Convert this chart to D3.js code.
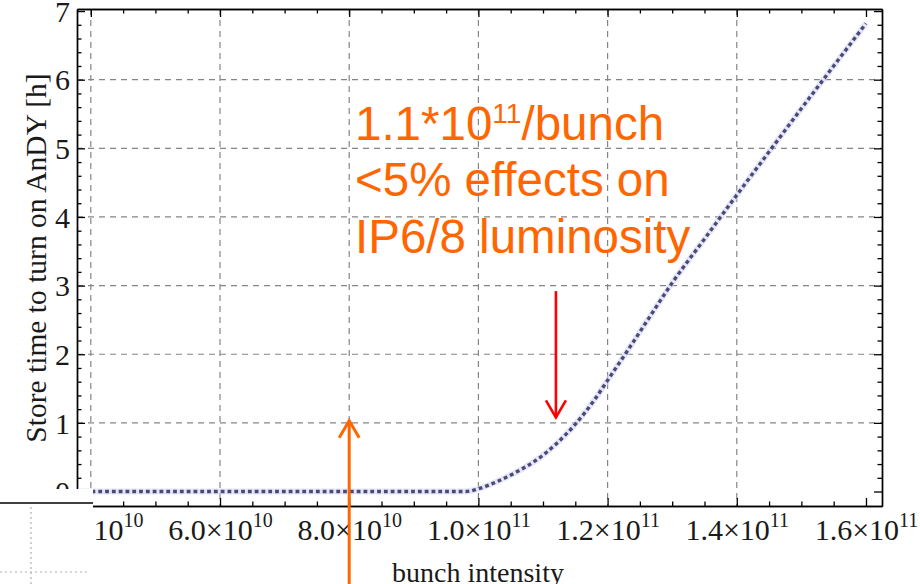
<!DOCTYPE html>
<html>
<head>
<meta charset="utf-8">
<script src="https://cdn.jsdelivr.net/npm/d3@7"></script>
<style>
  body { margin: 0; background: #fff; }
  svg { display: block; }
</style>
</head>
<body>
<svg id="chart" width="920" height="584"></svg>
<script>
// Store time needed before AnDY can be switched on, versus bunch intensity
const intensity = [3.8e10, 5e10, 6e10, 7e10, 8e10, 9e10, 9.8e10, 1.0e11, 1.03e11, 1.06e11, 1.09e11,
  1.12e11, 1.15e11, 1.18e11, 1.2e11, 1.23e11, 1.26e11, 1.3e11, 1.35e11, 1.4e11, 1.45e11,
  1.5e11, 1.55e11, 1.6e11];
const storeTime = [0, 0, 0, 0, 0, 0, 0, 0.04, 0.15, 0.29, 0.46,
  0.69, 0.98, 1.34, 1.62, 2.04, 2.47, 3.04, 3.68, 4.32, 4.95,
  5.58, 6.2, 6.82];

// Axis ticks
const xTickValues = [4e10, 6e10, 8e10, 1e11, 1.2e11, 1.4e11, 1.6e11];
const xTickMantissas = ["4.0", "6.0", "8.0", "1.0", "1.2", "1.4", "1.6"];
const xTickExponents = ["10", "10", "10", "11", "11", "11", "11"];
const xGridValues = [4e10, 6e10, 8e10, 1e11, 1.2e11, 1.4e11];
const yTickValues = [0, 1, 2, 3, 4, 5, 6, 7];
const yTickLabels = ["0", "1", "2", "3", "4", "5", "6", "7"];
const yGridValues = [1, 2, 3, 4, 5, 6];

// Annotation
const noteLine1 = ["1.1*10", "11", "/bunch"];
const noteLines = ["<5% effects on", "IP6/8 luminosity"];
const designArrow = { x: 1.12e11, from: 2.92, to: 1.08 };
const currentArrow = { x: 8.0e10, tip: 1.03 };

const svg = d3.select("#chart");
const W = 920, H = 584;
const plot = { left: 77, right: 882, top: 9, bottom: 506 };

const x = d3.scaleLinear().domain([3.786e10, 1.6248e11]).range([plot.left, plot.right]);
const y = d3.scaleLinear().domain([-0.211, 7.03]).range([plot.bottom, plot.top]);

const serif = "'Liberation Serif', 'Times New Roman', serif";
const sans = "'Liberation Sans', Arial, sans-serif";
const ink = "#1a1a1a";

// grid
const grid = svg.append("g").attr("stroke", "#858585").attr("stroke-width", 1.2)
  .attr("stroke-dasharray", "6,5").attr("fill", "none");
grid.selectAll("line.gx").data(xGridValues).join("line").attr("class", "gx")
  .attr("x1", d => x(d)).attr("x2", d => x(d)).attr("y1", plot.top).attr("y2", plot.bottom);
grid.selectAll("line.gy").data(yGridValues).join("line").attr("class", "gy")
  .attr("y1", d => y(d)).attr("y2", d => y(d)).attr("x1", plot.left).attr("x2", plot.right);

// minor tick positions
const xMinor = d3.range(40e9, 162.5e9, 5e9).filter(v => xTickValues.every(t => Math.abs(t - v) > 1));
const yMinor = d3.range(0, 7.01, 0.2).map(v => +v.toFixed(1)).filter(v => Math.abs(v - Math.round(v)) > 1e-6);

function frameAxis(axisFn, scale, majors, minors, transform) {
  const gMaj = svg.append("g").attr("transform", transform)
    .call(axisFn(scale).tickValues(majors).tickSize(-8).tickSizeOuter(0).tickFormat(""));
  const gMin = svg.append("g").attr("transform", transform)
    .call(axisFn(scale).tickValues(minors).tickSize(-4.5).tickSizeOuter(0).tickFormat(""));
  [gMaj, gMin].forEach(g => {
    g.selectAll("line").attr("stroke", "#000").attr("stroke-width", 1.3);
    g.select(".domain").attr("stroke", "#000").attr("stroke-width", 1.4);
  });
  return gMaj;
}

const bottomAxis = frameAxis(d3.axisBottom, x, xTickValues, xMinor, `translate(0,${plot.bottom})`);
frameAxis(d3.axisTop, x, xTickValues, xMinor, `translate(0,${plot.top})`);
const leftAxis = frameAxis(d3.axisLeft, y, yTickValues, yMinor, `translate(${plot.left},0)`);
frameAxis(d3.axisRight, y, yTickValues, yMinor, `translate(${plot.right},0)`);

// x tick labels with superscript exponents
bottomAxis.selectAll(".tick").each(function (d, i) {
  const t = d3.select(this).append("text")
    .attr("y", 34).attr("text-anchor", "middle")
    .attr("font-family", serif).attr("font-size", 30).attr("fill", ink);
  t.append("tspan").text(xTickMantissas[i] + "\u00d710");
  t.append("tspan").attr("dy", -13).attr("font-size", 20).text(xTickExponents[i]);
});

// y tick labels
leftAxis.selectAll(".tick").each(function (d, i) {
  d3.select(this).append("text")
    .attr("x", -7).attr("dy", "0.34em").attr("text-anchor", "end")
    .attr("font-family", serif).attr("font-size", 30).attr("fill", ink)
    .text(yTickLabels[i]);
});

// axis titles
svg.append("text")
  .attr("transform", "translate(46,258) rotate(-90)")
  .attr("text-anchor", "middle")
  .attr("font-family", serif).attr("font-size", 29.5).attr("fill", ink)
  .text("Store time to turn on AnDY [h]");
svg.append("text")
  .attr("x", 478).attr("y", 582)
  .attr("text-anchor", "middle")
  .attr("font-family", serif).attr("font-size", 28).attr("fill", ink)
  .text("bunch intensity");

// curve
const pts = intensity.map((v, i) => [v, storeTime[i]]);
const line = d3.line().x(d => x(d[0])).y(d => y(d[1])).curve(d3.curveMonotoneX);
svg.append("path").attr("d", line(pts)).attr("fill", "none")
  .attr("stroke", "#d6d6f2").attr("stroke-width", 6).attr("stroke-opacity", 0.6);
svg.append("path").attr("d", line(pts)).attr("fill", "none")
  .attr("stroke", "#4a4a78").attr("stroke-width", 3.4)
  .attr("stroke-dasharray", "3.8,3");

// annotation text
const orange = "#ff6600";
const t1 = svg.append("text").attr("x", 355).attr("y", 140)
  .attr("font-family", sans).attr("font-size", 47.5).attr("fill", orange);
t1.append("tspan").text(noteLine1[0]);
t1.append("tspan").attr("dy", -17).attr("font-size", 28).text(noteLine1[1]);
t1.append("tspan").attr("dy", 17).text(noteLine1[2]);
svg.selectAll("text.note").data(noteLines).join("text").attr("class", "note")
  .attr("x", 355).attr("y", (d, i) => 196 + i * 57)
  .attr("font-family", sans).attr("font-size", 47.5).attr("fill", orange)
  .text(d => d);

// arrows
function arrow(x0, yFrom, yTip, color, w) {
  const g = svg.append("g").attr("stroke", color).attr("stroke-width", w)
    .attr("fill", "none").attr("stroke-linecap", "butt");
  const dir = yTip > yFrom ? 1 : -1;
  g.append("line").attr("x1", x0).attr("x2", x0).attr("y1", yFrom).attr("y2", yTip);
  g.append("path").attr("d",
    `M${x0 - 10},${yTip - dir * 17}L${x0},${yTip}L${x0 + 10},${yTip - dir * 17}`);
}
arrow(x(designArrow.x), y(designArrow.from), y(designArrow.to), "#ff0000", 2.6);
arrow(x(currentArrow.x), H, y(currentArrow.tip), orange, 3);

// slide elements overlapping the lower-left corner
svg.append("rect").attr("x", 0).attr("y", 489).attr("width", 93).attr("height", H - 489).attr("fill", "#fff");
svg.append("line").attr("x1", 0).attr("x2", 93).attr("y1", 503).attr("y2", 503)
  .attr("stroke", "#000").attr("stroke-width", 1.4);
svg.append("line").attr("x1", 31).attr("x2", 31).attr("y1", 507).attr("y2", H)
  .attr("stroke", "#b0b0b0").attr("stroke-width", 1.2).attr("stroke-dasharray", "2,3");
svg.append("line").attr("x1", 0).attr("x2", 90).attr("y1", 572).attr("y2", 572)
  .attr("stroke", "#b0b0b0").attr("stroke-width", 1.2).attr("stroke-dasharray", "2,3");
</script>
</body>
</html>
